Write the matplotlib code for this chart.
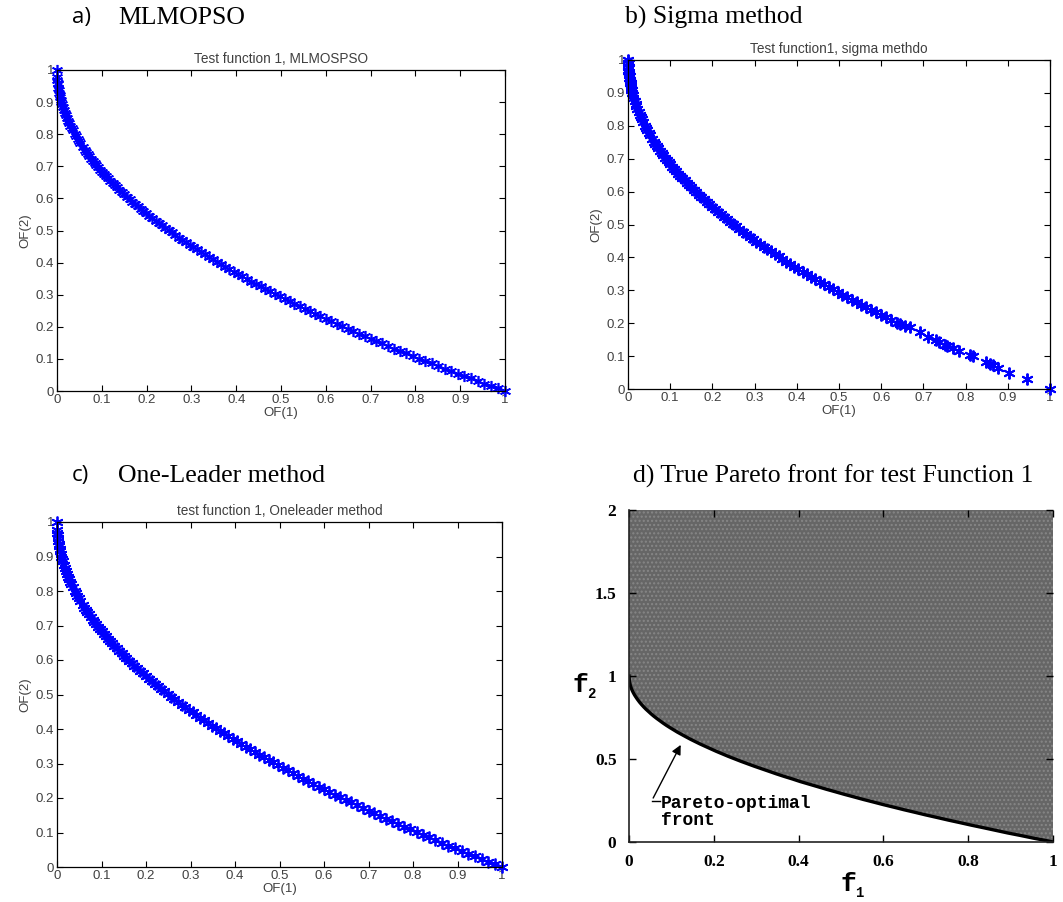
import matplotlib.pyplot as plt
import numpy as np

# --- data ----------------------------------------------------------------
# points along the front in panels a) and c) (OF(1), OF(2))
front_x = [0.000, 0.001, 0.002, 0.003, 0.005, 0.007, 0.010, 0.013, 0.016, 0.020,
           0.025, 0.030, 0.035, 0.040, 0.046, 0.052, 0.058, 0.065, 0.072, 0.080,
           0.088, 0.096, 0.105, 0.114, 0.124, 0.134, 0.145, 0.156, 0.168, 0.180,
           0.193, 0.206, 0.220, 0.234, 0.249, 0.264, 0.280, 0.296, 0.313, 0.330,
           0.348, 0.366, 0.385, 0.404, 0.424, 0.444, 0.465, 0.486, 0.508, 0.530,
           0.553, 0.576, 0.600, 0.624, 0.649, 0.674, 0.700, 0.726, 0.753, 0.780,
           0.808, 0.836, 0.865, 0.894, 0.924, 0.954, 0.985, 1.000]
front_y = [1.000, 0.968, 0.955, 0.945, 0.929, 0.916, 0.900, 0.886, 0.874, 0.859,
           0.842, 0.827, 0.813, 0.800, 0.786, 0.772, 0.759, 0.745, 0.732, 0.717,
           0.703, 0.690, 0.676, 0.662, 0.648, 0.634, 0.619, 0.605, 0.590, 0.576,
           0.561, 0.546, 0.531, 0.516, 0.501, 0.486, 0.471, 0.456, 0.441, 0.426,
           0.410, 0.395, 0.380, 0.364, 0.349, 0.334, 0.318, 0.303, 0.287, 0.272,
           0.256, 0.241, 0.225, 0.210, 0.194, 0.179, 0.163, 0.148, 0.132, 0.117,
           0.101, 0.086, 0.070, 0.054, 0.039, 0.023, 0.008, 0.000]
mid_x = [0.0005, 0.0015, 0.004, 0.006, 0.0085, 0.0115, 0.018, 0.0225, 0.0275, 0.0325,
         0.043, 0.049, 0.0615, 0.0685, 0.076, 0.084, 0.092, 0.1005, 0.1095, 0.119,
         0.129, 0.1395, 0.150, 0.162, 0.174, 0.1865, 0.1995, 0.213, 0.227, 0.2415,
         0.2565, 0.272, 0.288, 0.3045, 0.3215, 0.339, 0.357, 0.3755, 0.3945, 0.414,
         0.434, 0.4545, 0.4755, 0.497, 0.519, 0.5415, 0.5645, 0.588, 0.612, 0.6365,
         0.6615, 0.687, 0.713, 0.7395, 0.7665, 0.794, 0.822, 0.8505, 0.8795, 0.909,
         0.939, 0.9695]
mid_y = [0.978, 0.961, 0.937, 0.923, 0.908, 0.893, 0.866, 0.850, 0.834, 0.820,
         0.793, 0.779, 0.752, 0.738, 0.724, 0.710, 0.697, 0.683, 0.669, 0.655,
         0.641, 0.627, 0.613, 0.598, 0.583, 0.568, 0.553, 0.538, 0.524, 0.509,
         0.494, 0.478, 0.463, 0.448, 0.433, 0.418, 0.403, 0.387, 0.372, 0.357,
         0.341, 0.326, 0.310, 0.295, 0.280, 0.264, 0.249, 0.233, 0.218, 0.202,
         0.187, 0.171, 0.156, 0.140, 0.124, 0.109, 0.093, 0.078, 0.062, 0.047,
         0.031, 0.015]

# sigma method: dense cluster at the top, sparse tail on the right
sigma_top_x = [0.000, 0.002, 0.001, 0.003, 0.004, 0.002, 0.005, 0.006, 0.007, 0.008]
sigma_top_y = [0.990, 0.980, 0.970, 0.960, 0.950, 0.990, 0.940, 0.930, 0.920, 0.910]
sigma_tail_x = [0.645, 0.657, 0.668, 0.692, 0.712, 0.729, 0.738, 0.750, 0.755, 0.769,
                0.785, 0.811, 0.817, 0.848, 0.858, 0.866, 0.876, 0.903, 0.945, 1.000]
sigma_tail_y = [0.198, 0.193, 0.188, 0.172, 0.157, 0.150, 0.142, 0.134, 0.131, 0.126,
                0.116, 0.102, 0.099, 0.082, 0.076, 0.072, 0.065, 0.050, 0.030, 0.000]

d_xticks = [0, 0.2, 0.4, 0.6, 0.8, 1]
d_xlabels = ['0', '0.2', '0.4', '0.6', '0.8', '1']
d_yticks = [0, 0.5, 1, 1.5, 2]
d_ylabels = ['0', '0.5', '1', '1.5', '2']

W, H = 1063, 902
fig = plt.figure(figsize=(W / 100, H / 100), dpi=100)


def rect(l, t, r, b):
    return [l / W, 1 - b / H, (r - l) / W, (b - t) / H]


def matlab_axes(r, title):
    ax = fig.add_axes(rect(*r))
    ax.set_xlim(0, 1)
    ax.set_ylim(0, 1)
    ticks = np.arange(0, 1.01, 0.1)
    labs = ['0', '0.1', '0.2', '0.3', '0.4', '0.5', '0.6', '0.7', '0.8', '0.9', '1']
    ax.set_xticks(ticks)
    ax.set_yticks(ticks)
    ax.set_xticklabels(labs)
    ax.set_yticklabels(labs)
    ax.tick_params(direction='in', length=4, width=0.8, top=True, right=True,
                   labelsize=9.5, labelcolor='#404040', pad=2)
    for s in ax.spines.values():
        s.set_linewidth(0.9)
    ax.set_title(title, fontsize=9.8, color='#404040', fontfamily='Liberation Sans', pad=5)
    ax.set_xlabel('OF(1)', fontsize=9.5, color='#404040', fontfamily='Liberation Sans', labelpad=1)
    ax.set_ylabel('OF(2)', fontsize=9.5, color='#404040', fontfamily='Liberation Sans', labelpad=3)
    for lab in ax.get_xticklabels() + ax.get_yticklabels():
        lab.set_fontfamily('Liberation Sans')
    return ax


star = (6, 2, 0)
blue = '#0000ff'

# a) MLMOPSO
ax_a = matlab_axes((57, 70, 505, 391), 'Test function 1, MLMOSPSO')
for xs, ys in [(front_x, front_y), (mid_x, mid_y)]:
    ax_a.plot(xs, ys, ls='none', marker=star, ms=8, mew=1.2, color=blue, clip_on=False)

# b) Sigma method
ax_b = matlab_axes((628, 60, 1050, 389), 'Test function1, sigma methdo')
dense_x = [x for x in front_x if x < 0.64] + [x for x in mid_x if x < 0.64]
dense_y = [y for x, y in zip(front_x, front_y) if x < 0.64] + [y for x, y in zip(mid_x, mid_y) if x < 0.64]
for xs, ys in [(dense_x, dense_y), (sigma_top_x, sigma_top_y), (sigma_tail_x, sigma_tail_y)]:
    ax_b.plot(xs, ys, ls='none', marker=star, ms=8.5, mew=1.4, color=blue, clip_on=False)

# c) One-Leader method
ax_c = matlab_axes((57, 522, 502, 867), 'test function 1, Oneleader method')
for xs, ys in [(front_x, front_y), (mid_x, mid_y)]:
    ax_c.plot(xs, ys, ls='none', marker=star, ms=8.5, mew=1.3, color=blue, clip_on=False)

# d) True Pareto front (scanned figure)
ax_d = fig.add_axes(rect(629, 510, 1053, 842))
ax_d.set_xlim(0, 1)
ax_d.set_ylim(0, 2)
ax_d.fill_between(front_x, front_y, 2, color='#666666', lw=0, hatch='....',
                  edgecolor='#878787')
ax_d.plot(front_x, front_y, color='black', lw=2.4)
ax_d.set_xticks(d_xticks)
ax_d.set_xticklabels(d_xlabels)
ax_d.set_yticks(d_yticks)
ax_d.set_yticklabels(d_ylabels)
ax_d.tick_params(direction='in', length=5, width=1, top=True, right=True, labelsize=12.5, pad=9)
for lab in ax_d.get_xticklabels() + ax_d.get_yticklabels():
    lab.set_fontfamily('Liberation Serif')
    lab.set_fontweight('bold')
for side, s in ax_d.spines.items():
    s.set_linewidth(1.2)
    s.set_color('#222222')
ax_d.spines['top'].set_visible(False)
ax_d.spines['right'].set_visible(False)
ax_d.annotate('', xy=(0.125, 0.60), xytext=(0.054, 0.25),
              arrowprops=dict(arrowstyle='-|>', color='black', lw=1, mutation_scale=14))
ax_d.plot([0.054, 0.072], [0.25, 0.25], color='black', lw=1)
ax_d.text(0.076, 0.18, 'Pareto-optimal\nfront', fontfamily='Liberation Mono', fontweight='bold',
          fontsize=13, va='center', ha='left', linespacing=1.05)
fig.text(848 / W, 1 - 884 / H, 'f', fontfamily='Liberation Mono', fontweight='bold',
         fontsize=19, ha='center', va='center')
fig.text(859 / W, 1 - 893 / H, '1', fontfamily='Liberation Mono', fontweight='bold',
         fontsize=10, ha='center', va='center')
fig.text(580 / W, 1 - 685 / H, 'f', fontfamily='Liberation Mono', fontweight='bold',
         fontsize=19, ha='center', va='center')
fig.text(591 / W, 1 - 694 / H, '2', fontfamily='Liberation Mono', fontweight='bold',
         fontsize=10, ha='center', va='center')

# panel headings
fig.text(72 / W, 1 - 18 / H, 'a)', fontfamily='Open Sans', fontsize=16, va='center')
fig.text(118 / W, 1 - 18 / H, 'MLMOPSO', fontfamily='Liberation Serif', fontsize=18.5, va='center')
fig.text(625 / W, 1 - 17 / H, 'b) Sigma method', fontfamily='Liberation Serif', fontsize=18.5, va='center')
fig.text(72 / W, 1 - 476 / H, 'c)', fontfamily='Open Sans', fontsize=16, va='center')
fig.text(118 / W, 1 - 476 / H, 'One-Leader method', fontfamily='Liberation Serif', fontsize=18.5, va='center')
fig.text(633 / W, 1 - 476 / H, 'd) True Pareto front for test Function 1',
         fontfamily='Liberation Serif', fontsize=18.5, va='center')

fig.savefig('out.png', dpi=100)
